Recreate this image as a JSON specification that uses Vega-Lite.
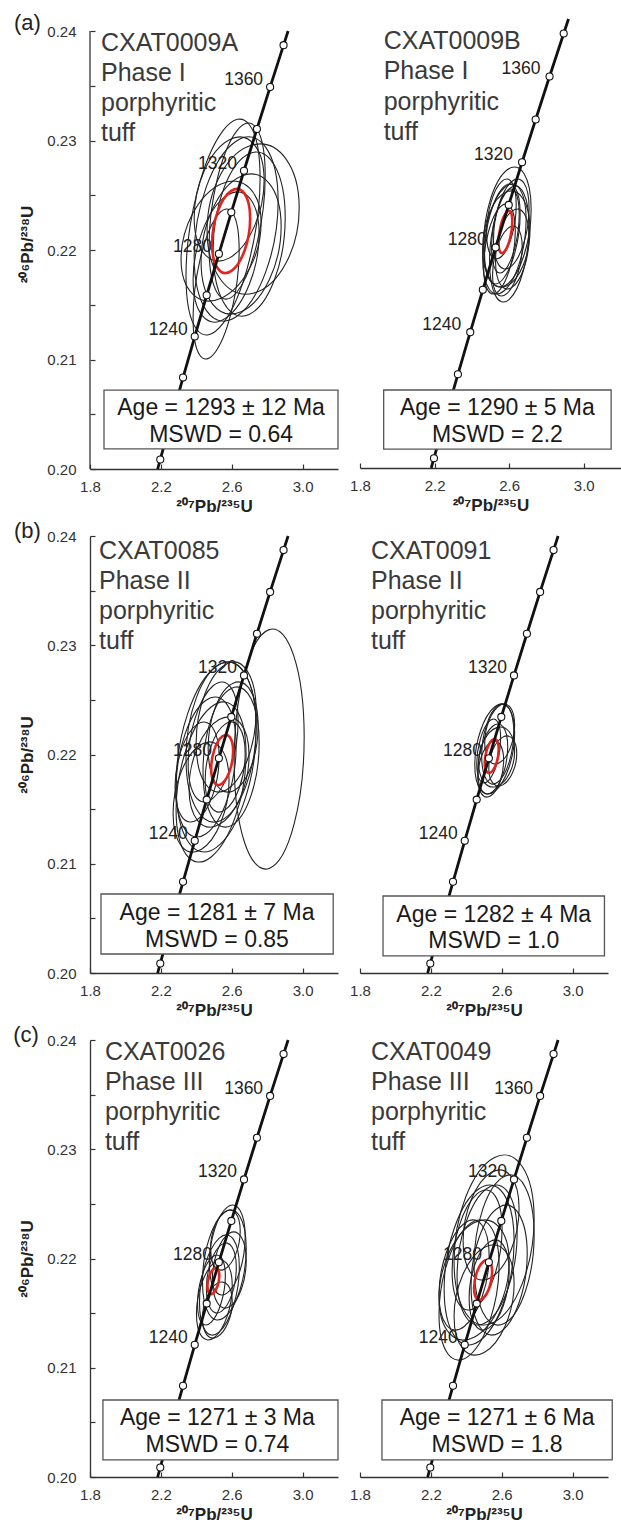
{
  "$schema": "https://vega.github.io/schema/vega-lite/v6.json",
  "padding": {"left": 13, "top": 11, "right": 0, "bottom": 0},
  "datasets": {
    "conc": [
      {"t": 1175.3, "x": 2.1820, "y": 0.2000, "m": false, "lab": ""},
      {"t": 1180, "x": 2.19671, "y": 0.20087, "m": true, "lab": ""},
      {"t": 1200, "x": 2.26030, "y": 0.20460, "m": true, "lab": ""},
      {"t": 1220, "x": 2.32516, "y": 0.20835, "m": true, "lab": ""},
      {"t": 1240, "x": 2.39131, "y": 0.21210, "m": true, "lab": "1240"},
      {"t": 1260, "x": 2.45876, "y": 0.21587, "m": true, "lab": ""},
      {"t": 1280, "x": 2.52757, "y": 0.21965, "m": true, "lab": "1280"},
      {"t": 1300, "x": 2.59773, "y": 0.22344, "m": true, "lab": ""},
      {"t": 1320, "x": 2.66930, "y": 0.22724, "m": true, "lab": "1320"},
      {"t": 1340, "x": 2.74229, "y": 0.23105, "m": true, "lab": ""},
      {"t": 1360, "x": 2.81674, "y": 0.23488, "m": true, "lab": "1360"},
      {"t": 1380, "x": 2.89266, "y": 0.23871, "m": true, "lab": ""},
      {"t": 1386.7, "x": 2.9183, "y": 0.2400, "m": false, "lab": ""}
    ],
    "ell": [
      {"p": "a1", "id": "a1-1", "r": 0, "xs": [2.760, 2.551, 2.342, 2.551], "ys": [0.22654, 0.23090, 0.21766, 0.21330], "k": [0, 1, 2, 3]},
      {"p": "a1", "id": "a1-2", "r": 0, "xs": [2.981, 2.721, 2.461, 2.721], "ys": [0.22386, 0.22961, 0.22180, 0.21605], "k": [0, 1, 2, 3]},
      {"p": "a1", "id": "a1-3", "r": 0, "xs": [2.642, 2.512, 2.382, 2.512], "ys": [0.21998, 0.22301, 0.21381, 0.21078], "k": [0, 1, 2, 3]},
      {"p": "a1", "id": "a1-4", "r": 0, "xs": [2.862, 2.625, 2.388, 2.625], "ys": [0.22444, 0.22994, 0.21940, 0.21390], "k": [0, 1, 2, 3]},
      {"p": "a1", "id": "a1-5", "r": 0, "xs": [2.879, 2.653, 2.427, 2.653], "ys": [0.22215, 0.22674, 0.21895, 0.21436], "k": [0, 1, 2, 3]},
      {"p": "a1", "id": "a1-6", "r": 0, "xs": [2.783, 2.585, 2.388, 2.585], "ys": [0.22636, 0.23005, 0.22296, 0.21926], "k": [0, 1, 2, 3]},
      {"p": "a1", "id": "a1-7", "r": 0, "xs": [2.902, 2.698, 2.495, 2.698], "ys": [0.22296, 0.22880, 0.21996, 0.21412], "k": [0, 1, 2, 3]},
      {"p": "a1", "id": "a1-8", "r": 0, "xs": [2.755, 2.568, 2.382, 2.568], "ys": [0.22144, 0.22492, 0.21728, 0.21380], "k": [0, 1, 2, 3]},
      {"p": "a1", "id": "a1-9", "r": 0, "xs": [2.789, 2.631, 2.472, 2.631], "ys": [0.22678, 0.23093, 0.22035, 0.21619], "k": [0, 1, 2, 3]},
      {"p": "a1", "id": "a1-10", "r": 0, "xs": [2.766, 2.540, 2.314, 2.540], "ys": [0.22246, 0.22604, 0.21918, 0.21560], "k": [0, 1, 2, 3]},
      {"p": "a1", "id": "a1-m", "r": 1, "xs": [2.704, 2.597, 2.489, 2.597], "ys": [0.22289, 0.22540, 0.22058, 0.21807], "k": [0, 1, 2, 3]},

      {"p": "a2", "id": "a2-1", "r": 0, "xs": [2.718, 2.590, 2.463, 2.590], "ys": [0.22307, 0.22657, 0.21987, 0.21637], "k": [0, 1, 2, 3]},
      {"p": "a2", "id": "a2-2", "r": 0, "xs": [2.691, 2.575, 2.458, 2.575], "ys": [0.22212, 0.22499, 0.21869, 0.21581], "k": [0, 1, 2, 3]},
      {"p": "a2", "id": "a2-3", "r": 0, "xs": [2.707, 2.601, 2.495, 2.601], "ys": [0.22151, 0.22488, 0.21841, 0.21503], "k": [0, 1, 2, 3]},
      {"p": "a2", "id": "a2-4", "r": 0, "xs": [2.659, 2.564, 2.468, 2.564], "ys": [0.22263, 0.22493, 0.21907, 0.21677], "k": [0, 1, 2, 3]},
      {"p": "a2", "id": "a2-5", "r": 0, "xs": [2.707, 2.612, 2.516, 2.612], "ys": [0.22314, 0.22550, 0.22034, 0.21798], "k": [0, 1, 2, 3]},
      {"p": "a2", "id": "a2-6", "r": 0, "xs": [2.633, 2.548, 2.463, 2.548], "ys": [0.22111, 0.22319, 0.21791, 0.21583], "k": [0, 1, 2, 3]},
      {"p": "a2", "id": "a2-7", "r": 0, "xs": [2.654, 2.580, 2.506, 2.580], "ys": [0.22261, 0.22454, 0.21962, 0.21768], "k": [0, 1, 2, 3]},
      {"p": "a2", "id": "a2-8", "r": 0, "xs": [2.707, 2.617, 2.527, 2.617], "ys": [0.22058, 0.22291, 0.21844, 0.21611], "k": [0, 1, 2, 3]},
      {"p": "a2", "id": "a2-9", "r": 0, "xs": [2.638, 2.559, 2.479, 2.559], "ys": [0.22343, 0.22552, 0.22094, 0.21884], "k": [0, 1, 2, 3]},
      {"p": "a2", "id": "a2-10", "r": 0, "xs": [2.670, 2.590, 2.511, 2.590], "ys": [0.21969, 0.22130, 0.21719, 0.21558], "k": [0, 1, 2, 3]},
      {"p": "a2", "id": "a2-11", "r": 0, "xs": [2.712, 2.585, 2.458, 2.585], "ys": [0.22126, 0.22459, 0.21955, 0.21621], "k": [0, 1, 2, 3]},
      {"p": "a2", "id": "a2-m", "r": 1, "xs": [2.617, 2.580, 2.543, 2.580], "ys": [0.22196, 0.22265, 0.22009, 0.21940], "k": [0, 1, 2, 3]},

      {"p": "b1", "id": "b1-1", "r": 0, "xs": [2.738, 2.512, 2.286, 2.512], "ys": [0.22238, 0.22806, 0.21716, 0.21148], "k": [0, 1, 2, 3]},
      {"p": "b1", "id": "b1-2", "r": 0, "xs": [2.738, 2.540, 2.342, 2.540], "ys": [0.22261, 0.22832, 0.21968, 0.21397], "k": [0, 1, 2, 3]},
      {"p": "b1", "id": "b1-3", "r": 0, "xs": [2.681, 2.484, 2.286, 2.484], "ys": [0.22005, 0.22435, 0.21492, 0.21062], "k": [0, 1, 2, 3]},
      {"p": "b1", "id": "b1-4", "r": 0, "xs": [2.738, 2.568, 2.399, 2.568], "ys": [0.22400, 0.22827, 0.22103, 0.21676], "k": [0, 1, 2, 3]},
      {"p": "b1", "id": "b1-5", "r": 0, "xs": [2.625, 2.455, 2.286, 2.455], "ys": [0.22078, 0.22497, 0.21693, 0.21274], "k": [0, 1, 2, 3]},
      {"p": "b1", "id": "b1-6", "r": 0, "xs": [2.755, 2.597, 2.438, 2.597], "ys": [0.22105, 0.22605, 0.21849, 0.21349], "k": [0, 1, 2, 3]},
      {"p": "b1", "id": "b1-7", "r": 0, "xs": [2.698, 2.529, 2.359, 2.529], "ys": [0.21991, 0.22320, 0.21689, 0.21359], "k": [0, 1, 2, 3]},
      {"p": "b1", "id": "b1-8", "r": 0, "xs": [2.636, 2.495, 2.354, 2.495], "ys": [0.22307, 0.22629, 0.21922, 0.21600], "k": [0, 1, 2, 3]},
      {"p": "b1", "id": "b1-9", "r": 0, "xs": [2.585, 2.427, 2.269, 2.427], "ys": [0.21762, 0.22091, 0.21460, 0.21130], "k": [0, 1, 2, 3]},
      {"p": "b1", "id": "b1-10", "r": 0, "xs": [2.676, 2.563, 2.450, 2.563], "ys": [0.22009, 0.22278, 0.21762, 0.21493], "k": [0, 1, 2, 3]},
      {"p": "b1", "id": "b1-11", "r": 0, "xs": [2.749, 2.608, 2.467, 2.608], "ys": [0.22261, 0.22653, 0.22059, 0.21667], "k": [0, 1, 2, 3]},
      {"p": "b1", "id": "b1-12", "r": 0, "xs": [2.529, 2.405, 2.280, 2.405], "ys": [0.21977, 0.22276, 0.21702, 0.21403], "k": [0, 1, 2, 3]},
      {"p": "b1", "id": "b1-13", "r": 0, "xs": [3.009, 2.811, 2.614, 2.811], "ys": [0.22160, 0.23143, 0.21940, 0.20957], "k": [0, 1, 2, 3]},
      {"p": "b1", "id": "b1-m", "r": 1, "xs": [2.608, 2.546, 2.484, 2.546], "ys": [0.22030, 0.22164, 0.21870, 0.21735], "k": [0, 1, 2, 3]},

      {"p": "b2", "id": "b2-1", "r": 0, "xs": [2.673, 2.561, 2.448, 2.561], "ys": [0.22194, 0.22437, 0.21906, 0.21664], "k": [0, 1, 2, 3]},
      {"p": "b2", "id": "b2-2", "r": 0, "xs": [2.668, 2.577, 2.487, 2.577], "ys": [0.22206, 0.22446, 0.21986, 0.21746], "k": [0, 1, 2, 3]},
      {"p": "b2", "id": "b2-3", "r": 0, "xs": [2.634, 2.549, 2.465, 2.549], "ys": [0.22071, 0.22259, 0.21847, 0.21659], "k": [0, 1, 2, 3]},
      {"p": "b2", "id": "b2-4", "r": 0, "xs": [2.673, 2.589, 2.504, 2.589], "ys": [0.22270, 0.22449, 0.22105, 0.21926], "k": [0, 1, 2, 3]},
      {"p": "b2", "id": "b2-5", "r": 0, "xs": [2.611, 2.538, 2.465, 2.538], "ys": [0.21944, 0.22112, 0.21790, 0.21623], "k": [0, 1, 2, 3]},
      {"p": "b2", "id": "b2-6", "r": 0, "xs": [2.673, 2.572, 2.470, 2.572], "ys": [0.22032, 0.22246, 0.21922, 0.21708], "k": [0, 1, 2, 3]},
      {"p": "b2", "id": "b2-7", "r": 0, "xs": [2.594, 2.527, 2.459, 2.527], "ys": [0.22149, 0.22300, 0.21915, 0.21764], "k": [0, 1, 2, 3]},
      {"p": "b2", "id": "b2-8", "r": 0, "xs": [2.685, 2.606, 2.527, 2.606], "ys": [0.22009, 0.22159, 0.21872, 0.21722], "k": [0, 1, 2, 3]},
      {"p": "b2", "id": "b2-m", "r": 1, "xs": [2.583, 2.544, 2.504, 2.544], "ys": [0.22048, 0.22129, 0.21924, 0.21843], "k": [0, 1, 2, 3]},

      {"p": "c1", "id": "c1-1", "r": 0, "xs": [2.682, 2.558, 2.435, 2.558], "ys": [0.22091, 0.22421, 0.21789, 0.21460], "k": [0, 1, 2, 3]},
      {"p": "c1", "id": "c1-2", "r": 0, "xs": [2.643, 2.530, 2.418, 2.530], "ys": [0.21918, 0.22187, 0.21597, 0.21328], "k": [0, 1, 2, 3]},
      {"p": "c1", "id": "c1-3", "r": 0, "xs": [2.676, 2.575, 2.474, 2.575], "ys": [0.22201, 0.22470, 0.21954, 0.21685], "k": [0, 1, 2, 3]},
      {"p": "c1", "id": "c1-4", "r": 0, "xs": [2.603, 2.502, 2.401, 2.502], "ys": [0.21748, 0.21963, 0.21492, 0.21277], "k": [0, 1, 2, 3]},
      {"p": "c1", "id": "c1-5", "r": 0, "xs": [2.626, 2.542, 2.457, 2.542], "ys": [0.21918, 0.22127, 0.21725, 0.21516], "k": [0, 1, 2, 3]},
      {"p": "c1", "id": "c1-6", "r": 0, "xs": [2.682, 2.587, 2.491, 2.587], "ys": [0.21982, 0.22232, 0.21808, 0.21558], "k": [0, 1, 2, 3]},
      {"p": "c1", "id": "c1-7", "r": 0, "xs": [2.564, 2.485, 2.407, 2.485], "ys": [0.21840, 0.22005, 0.21583, 0.21418], "k": [0, 1, 2, 3]},
      {"p": "c1", "id": "c1-8", "r": 0, "xs": [2.648, 2.564, 2.480, 2.564], "ys": [0.22252, 0.22431, 0.22087, 0.21907], "k": [0, 1, 2, 3]},
      {"p": "c1", "id": "c1-9", "r": 0, "xs": [2.603, 2.519, 2.435, 2.519], "ys": [0.21605, 0.21773, 0.21452, 0.21284], "k": [0, 1, 2, 3]},
      {"p": "c1", "id": "c1-m", "r": 1, "xs": [2.530, 2.497, 2.463, 2.497], "ys": [0.21842, 0.21903, 0.21746, 0.21685], "k": [0, 1, 2, 3]},

      {"p": "c2", "id": "c2-1", "r": 0, "xs": [2.783, 2.557, 2.331, 2.557], "ys": [0.22364, 0.22923, 0.21975, 0.21416], "k": [0, 1, 2, 3]},
      {"p": "c2", "id": "c2-2", "r": 0, "xs": [2.670, 2.472, 2.275, 2.472], "ys": [0.22160, 0.22639, 0.21721, 0.21242], "k": [0, 1, 2, 3]},
      {"p": "c2", "id": "c2-3", "r": 0, "xs": [2.585, 2.416, 2.246, 2.416], "ys": [0.21936, 0.22312, 0.21487, 0.21111], "k": [0, 1, 2, 3]},
      {"p": "c2", "id": "c2-4", "r": 0, "xs": [2.687, 2.518, 2.348, 2.518], "ys": [0.22224, 0.22643, 0.21840, 0.21421], "k": [0, 1, 2, 3]},
      {"p": "c2", "id": "c2-5", "r": 0, "xs": [2.642, 2.444, 2.246, 2.444], "ys": [0.21968, 0.22327, 0.21638, 0.21280], "k": [0, 1, 2, 3]},
      {"p": "c2", "id": "c2-6", "r": 0, "xs": [2.744, 2.585, 2.427, 2.585], "ys": [0.22043, 0.22470, 0.21746, 0.21319], "k": [0, 1, 2, 3]},
      {"p": "c2", "id": "c2-7", "r": 0, "xs": [2.670, 2.501, 2.331, 2.501], "ys": [0.21771, 0.22101, 0.21469, 0.21140], "k": [0, 1, 2, 3]},
      {"p": "c2", "id": "c2-8", "r": 0, "xs": [2.602, 2.461, 2.320, 2.461], "ys": [0.22270, 0.22592, 0.21886, 0.21563], "k": [0, 1, 2, 3]},
      {"p": "c2", "id": "c2-9", "r": 0, "xs": [2.698, 2.540, 2.382, 2.540], "ys": [0.22458, 0.22787, 0.22156, 0.21826], "k": [0, 1, 2, 3]},
      {"p": "c2", "id": "c2-10", "r": 0, "xs": [2.529, 2.388, 2.246, 2.388], "ys": [0.22025, 0.22320, 0.21673, 0.21378], "k": [0, 1, 2, 3]},
      {"p": "c2", "id": "c2-11", "r": 0, "xs": [2.642, 2.529, 2.416, 2.529], "ys": [0.21881, 0.22150, 0.21634, 0.21365], "k": [0, 1, 2, 3]},
      {"p": "c2", "id": "c2-12", "r": 0, "xs": [2.783, 2.614, 2.444, 2.614], "ys": [0.22215, 0.22751, 0.21940, 0.21405], "k": [0, 1, 2, 3]},
      {"p": "c2", "id": "c2-m", "r": 1, "xs": [2.546, 2.495, 2.444, 2.495], "ys": [0.21876, 0.21971, 0.21730, 0.21636], "k": [0, 1, 2, 3]}
    ],
    "ann": [
      {"p": "a1", "kind": "title", "x": 1.862, "y": 0.23817, "text": "CXAT0009A\nPhase I\nporphyritic\ntuff"},
      {"p": "a1", "kind": "box", "x": 1.879, "x2": 3.2, "y": 0.20721, "y2": 0.20183},
      {"p": "a1", "kind": "line", "x": 2.540, "y": 0.20493, "text": "Age = 1293 \u00b1 12 Ma"},
      {"p": "a1", "kind": "line", "x": 2.540, "y": 0.20247, "text": "MSWD = 0.64"},
      {"p": "a1", "kind": "letter", "x": 1.371, "y": 0.2401, "text": "(a)"},
      {"p": "a2", "kind": "title", "x": 1.927, "y": 0.23733, "text": "CXAT0009B\nPhase I\nporphyritic\ntuff"},
      {"p": "a2", "kind": "box", "x": 1.927, "x2": 3.147, "y": 0.20695, "y2": 0.20169},
      {"p": "a2", "kind": "line", "x": 2.537, "y": 0.20472, "text": "Age = 1290 \u00b1 5 Ma"},
      {"p": "a2", "kind": "line", "x": 2.537, "y": 0.20232, "text": "MSWD = 2.2"},
      {"p": "b1", "kind": "title", "x": 1.851, "y": 0.23789, "text": "CXAT0085\nPhase II\nporphyritic\ntuff"},
      {"p": "b1", "kind": "box", "x": 1.862, "x2": 3.173, "y": 0.20723, "y2": 0.20174},
      {"p": "b1", "kind": "line", "x": 2.517, "y": 0.20485, "text": "Age = 1281 \u00b1 7 Ma"},
      {"p": "b1", "kind": "line", "x": 2.517, "y": 0.20238, "text": "MSWD = 0.85"},
      {"p": "b1", "kind": "letter", "x": 1.371, "y": 0.23982, "text": "(b)"},
      {"p": "b2", "kind": "title", "x": 1.862, "y": 0.23789, "text": "CXAT0091\nPhase II\nporphyritic\ntuff"},
      {"p": "b2", "kind": "box", "x": 1.930, "x2": 3.180, "y": 0.20705, "y2": 0.20156},
      {"p": "b2", "kind": "line", "x": 2.555, "y": 0.20470, "text": "Age = 1282 \u00b1 4 Ma"},
      {"p": "b2", "kind": "line", "x": 2.555, "y": 0.20225, "text": "MSWD = 1.0"},
      {"p": "c1", "kind": "title", "x": 1.884, "y": 0.23817, "text": "CXAT0026\nPhase III\nporphyritic\ntuff"},
      {"p": "c1", "kind": "box", "x": 1.873, "x2": 3.2, "y": 0.20705, "y2": 0.20156},
      {"p": "c1", "kind": "line", "x": 2.519, "y": 0.20476, "text": "Age = 1271 \u00b1 3 Ma"},
      {"p": "c1", "kind": "line", "x": 2.519, "y": 0.20229, "text": "MSWD = 0.74"},
      {"p": "c1", "kind": "letter", "x": 1.367, "y": 0.23982, "text": "(c)"},
      {"p": "c2", "kind": "title", "x": 1.862, "y": 0.23817, "text": "CXAT0049\nPhase III\nporphyritic\ntuff"},
      {"p": "c2", "kind": "box", "x": 1.924, "x2": 3.224, "y": 0.20705, "y2": 0.20156},
      {"p": "c2", "kind": "line", "x": 2.574, "y": 0.20476, "text": "Age = 1271 \u00b1 6 Ma"},
      {"p": "c2", "kind": "line", "x": 2.574, "y": 0.20229, "text": "MSWD = 1.8"}
    ]
  },
  "columns": 2,
  "bounds": "flush",
  "spacing": {"row": 67, "column": 22},
  "concat": [
    {
      "width": 248, "height": 450,
      "layer": [
        {"data": {"name": "conc"}, "transform": [{"filter": "datum.lab != ''"}],
         "mark": {"type": "text", "align": "right", "baseline": "alphabetic", "dx": -7, "dy": -2, "fontSize": 17.5, "color": "#222"},
         "encoding": {
           "x": {"field": "x", "type": "quantitative", "scale": {"domain": [1.8, 3.2], "nice": false, "zero": false},
                 "axis": {"values": [1.8, 2.0, 2.2, 2.4, 2.6, 2.8, 3.0, 3.2], "labelExpr": "round(datum.value*10) % 4 == 2 ? format(datum.value, '.1f') : ''", "title": "\u00b2\u2070\u2077Pb/\u00b2\u00b3\u2075U"}},
           "y": {"field": "y", "type": "quantitative", "scale": {"domain": [0.2, 0.2411], "nice": false, "zero": false},
                 "axis": {"domain": false, "values": [0.2, 0.205, 0.21, 0.215, 0.22, 0.225, 0.23, 0.235, 0.24], "labelExpr": "round(datum.value*1000) % 10 == 0 ? format(datum.value, '.2f') : ''", "title": "\u00b2\u2070\u2076Pb/\u00b2\u00b3\u2078U"}},
           "text": {"field": "lab"}}},
        {"data": {"values": [{}]}, "mark": {"type": "rule", "color": "#333", "strokeWidth": 1.3},
         "encoding": {"x": {"datum": 1.8, "type": "quantitative"}, "y": {"datum": 0.2, "type": "quantitative"}, "y2": {"datum": 0.24}}},
        {"data": {"name": "ell"}, "transform": [{"filter": "datum.p == 'a1' && datum.r == 0"}, {"flatten": ["xs", "ys", "k"]}],
         "mark": {"type": "line", "interpolate": "cardinal-closed", "tension": -0.657, "color": "#222", "strokeWidth": 1.1},
         "encoding": {"x": {"field": "xs", "type": "quantitative"}, "y": {"field": "ys", "type": "quantitative"}, "detail": {"field": "id"}, "order": {"field": "k", "type": "quantitative"}}},
        {"data": {"name": "ell"}, "transform": [{"filter": "datum.p == 'a1' && datum.r == 1"}, {"flatten": ["xs", "ys", "k"]}],
         "mark": {"type": "line", "interpolate": "cardinal-closed", "tension": -0.657, "color": "#e3231f", "strokeWidth": 2.6},
         "encoding": {"x": {"field": "xs", "type": "quantitative"}, "y": {"field": "ys", "type": "quantitative"}, "detail": {"field": "id"}, "order": {"field": "k", "type": "quantitative"}}},
        {"data": {"name": "conc"}, "mark": {"type": "line", "color": "#111", "strokeWidth": 2.8},
         "encoding": {"x": {"field": "x", "type": "quantitative"}, "y": {"field": "y", "type": "quantitative"}, "order": {"field": "t", "type": "quantitative"}}},
        {"data": {"name": "conc"}, "transform": [{"filter": "datum.m"}],
         "mark": {"type": "point", "shape": "circle", "filled": true, "fill": "white", "stroke": "#111", "strokeWidth": 1.1, "size": 50, "opacity": 1},
         "encoding": {"x": {"field": "x", "type": "quantitative"}, "y": {"field": "y", "type": "quantitative"}}},
        {"data": {"name": "ann"}, "transform": [{"filter": "datum.p == 'a1' && datum.kind == 'box'"}],
         "mark": {"type": "rect", "fill": "white", "stroke": "#555", "strokeWidth": 1.3},
         "encoding": {"x": {"field": "x", "type": "quantitative"}, "x2": {"field": "x2"}, "y": {"field": "y", "type": "quantitative"}, "y2": {"field": "y2"}}},
        {"data": {"name": "ann"}, "transform": [{"filter": "datum.p == 'a1' && datum.kind == 'line'"}],
         "mark": {"type": "text", "align": "center", "baseline": "alphabetic", "fontSize": 23, "color": "#1a1a1a"},
         "encoding": {"x": {"field": "x", "type": "quantitative"}, "y": {"field": "y", "type": "quantitative"}, "text": {"field": "text"}}},
        {"data": {"name": "ann"}, "transform": [{"filter": "datum.p == 'a1' && datum.kind == 'title'"}],
         "mark": {"type": "text", "align": "left", "baseline": "alphabetic", "fontSize": 25, "lineBreak": "\n", "lineHeight": 30, "color": "#3a3a3a"},
         "encoding": {"x": {"field": "x", "type": "quantitative"}, "y": {"field": "y", "type": "quantitative"}, "text": {"field": "text"}}},
        {"data": {"name": "ann"}, "transform": [{"filter": "datum.p == 'a1' && datum.kind == 'letter'"}],
         "mark": {"type": "text", "align": "left", "baseline": "alphabetic", "fontSize": 22, "color": "#222"},
         "encoding": {"x": {"field": "x", "type": "quantitative"}, "y": {"field": "y", "type": "quantitative"}, "text": {"field": "text"}}}
      ]
    },
    {
      "width": 261, "height": 449,
      "layer": [
        {"data": {"name": "conc"}, "transform": [{"filter": "datum.lab != ''"}],
         "mark": {"type": "text", "align": "right", "baseline": "alphabetic", "dx": -9, "dy": -2, "fontSize": 17.5, "color": "#222"},
         "encoding": {
           "x": {"field": "x", "type": "quantitative", "scale": {"domain": [1.8, 3.2], "nice": false, "zero": false},
                 "axis": {"values": [1.8, 2.0, 2.2, 2.4, 2.6, 2.8, 3.0, 3.2], "labelExpr": "round(datum.value*10) % 4 == 2 ? format(datum.value, '.1f') : ''", "title": "\u00b2\u2070\u2077Pb/\u00b2\u00b3\u2075U"}},
           "y": {"field": "y", "type": "quantitative", "scale": {"domain": [0.2, 0.24], "nice": false, "zero": false}, "axis": null},
           "text": {"field": "lab"}}},
        {"data": {"name": "ell"}, "transform": [{"filter": "datum.p == 'a2' && datum.r == 0"}, {"flatten": ["xs", "ys", "k"]}],
         "mark": {"type": "line", "interpolate": "cardinal-closed", "tension": -0.657, "color": "#222", "strokeWidth": 1.1},
         "encoding": {"x": {"field": "xs", "type": "quantitative"}, "y": {"field": "ys", "type": "quantitative"}, "detail": {"field": "id"}, "order": {"field": "k", "type": "quantitative"}}},
        {"data": {"name": "ell"}, "transform": [{"filter": "datum.p == 'a2' && datum.r == 1"}, {"flatten": ["xs", "ys", "k"]}],
         "mark": {"type": "line", "interpolate": "cardinal-closed", "tension": -0.657, "color": "#e3231f", "strokeWidth": 2.6},
         "encoding": {"x": {"field": "xs", "type": "quantitative"}, "y": {"field": "ys", "type": "quantitative"}, "detail": {"field": "id"}, "order": {"field": "k", "type": "quantitative"}}},
        {"data": {"name": "conc"}, "mark": {"type": "line", "color": "#111", "strokeWidth": 2.8},
         "encoding": {"x": {"field": "x", "type": "quantitative"}, "y": {"field": "y", "type": "quantitative"}, "order": {"field": "t", "type": "quantitative"}}},
        {"data": {"name": "conc"}, "transform": [{"filter": "datum.m"}],
         "mark": {"type": "point", "shape": "circle", "filled": true, "fill": "white", "stroke": "#111", "strokeWidth": 1.1, "size": 50, "opacity": 1},
         "encoding": {"x": {"field": "x", "type": "quantitative"}, "y": {"field": "y", "type": "quantitative"}}},
        {"data": {"name": "ann"}, "transform": [{"filter": "datum.p == 'a2' && datum.kind == 'box'"}],
         "mark": {"type": "rect", "fill": "white", "stroke": "#555", "strokeWidth": 1.3},
         "encoding": {"x": {"field": "x", "type": "quantitative"}, "x2": {"field": "x2"}, "y": {"field": "y", "type": "quantitative"}, "y2": {"field": "y2"}}},
        {"data": {"name": "ann"}, "transform": [{"filter": "datum.p == 'a2' && datum.kind == 'line'"}],
         "mark": {"type": "text", "align": "center", "baseline": "alphabetic", "fontSize": 23, "color": "#1a1a1a"},
         "encoding": {"x": {"field": "x", "type": "quantitative"}, "y": {"field": "y", "type": "quantitative"}, "text": {"field": "text"}}},
        {"data": {"name": "ann"}, "transform": [{"filter": "datum.p == 'a2' && datum.kind == 'title'"}],
         "mark": {"type": "text", "align": "left", "baseline": "alphabetic", "fontSize": 25, "lineBreak": "\n", "lineHeight": 30.5, "color": "#3a3a3a"},
         "encoding": {"x": {"field": "x", "type": "quantitative"}, "y": {"field": "y", "type": "quantitative"}, "text": {"field": "text"}}}
      ]
    },
    {
      "width": 248, "height": 437,
      "layer": [
        {"data": {"name": "conc"}, "transform": [{"filter": "datum.lab != '' && datum.lab != '1360'"}],
         "mark": {"type": "text", "align": "right", "baseline": "alphabetic", "dx": -7, "dy": -2, "fontSize": 17.5, "color": "#222"},
         "encoding": {
           "x": {"field": "x", "type": "quantitative", "scale": {"domain": [1.8, 3.2], "nice": false, "zero": false},
                 "axis": {"values": [1.8, 2.0, 2.2, 2.4, 2.6, 2.8, 3.0, 3.2], "labelExpr": "round(datum.value*10) % 4 == 2 ? format(datum.value, '.1f') : ''", "title": "\u00b2\u2070\u2077Pb/\u00b2\u00b3\u2075U"}},
           "y": {"field": "y", "type": "quantitative", "scale": {"domain": [0.2, 0.24], "nice": false, "zero": false},
                 "axis": {"values": [0.2, 0.205, 0.21, 0.215, 0.22, 0.225, 0.23, 0.235, 0.24], "labelExpr": "round(datum.value*1000) % 10 == 0 ? format(datum.value, '.2f') : ''", "title": "\u00b2\u2070\u2076Pb/\u00b2\u00b3\u2078U"}},
           "text": {"field": "lab"}}},
        {"data": {"name": "ell"}, "transform": [{"filter": "datum.p == 'b1' && datum.r == 0"}, {"flatten": ["xs", "ys", "k"]}],
         "mark": {"type": "line", "interpolate": "cardinal-closed", "tension": -0.657, "color": "#222", "strokeWidth": 1.1},
         "encoding": {"x": {"field": "xs", "type": "quantitative"}, "y": {"field": "ys", "type": "quantitative"}, "detail": {"field": "id"}, "order": {"field": "k", "type": "quantitative"}}},
        {"data": {"name": "ell"}, "transform": [{"filter": "datum.p == 'b1' && datum.r == 1"}, {"flatten": ["xs", "ys", "k"]}],
         "mark": {"type": "line", "interpolate": "cardinal-closed", "tension": -0.657, "color": "#e3231f", "strokeWidth": 2.6},
         "encoding": {"x": {"field": "xs", "type": "quantitative"}, "y": {"field": "ys", "type": "quantitative"}, "detail": {"field": "id"}, "order": {"field": "k", "type": "quantitative"}}},
        {"data": {"name": "conc"}, "mark": {"type": "line", "color": "#111", "strokeWidth": 2.8},
         "encoding": {"x": {"field": "x", "type": "quantitative"}, "y": {"field": "y", "type": "quantitative"}, "order": {"field": "t", "type": "quantitative"}}},
        {"data": {"name": "conc"}, "transform": [{"filter": "datum.m"}],
         "mark": {"type": "point", "shape": "circle", "filled": true, "fill": "white", "stroke": "#111", "strokeWidth": 1.1, "size": 50, "opacity": 1},
         "encoding": {"x": {"field": "x", "type": "quantitative"}, "y": {"field": "y", "type": "quantitative"}}},
        {"data": {"name": "ann"}, "transform": [{"filter": "datum.p == 'b1' && datum.kind == 'box'"}],
         "mark": {"type": "rect", "fill": "white", "stroke": "#555", "strokeWidth": 1.3},
         "encoding": {"x": {"field": "x", "type": "quantitative"}, "x2": {"field": "x2"}, "y": {"field": "y", "type": "quantitative"}, "y2": {"field": "y2"}}},
        {"data": {"name": "ann"}, "transform": [{"filter": "datum.p == 'b1' && datum.kind == 'line'"}],
         "mark": {"type": "text", "align": "center", "baseline": "alphabetic", "fontSize": 23, "color": "#1a1a1a"},
         "encoding": {"x": {"field": "x", "type": "quantitative"}, "y": {"field": "y", "type": "quantitative"}, "text": {"field": "text"}}},
        {"data": {"name": "ann"}, "transform": [{"filter": "datum.p == 'b1' && datum.kind == 'title'"}],
         "mark": {"type": "text", "align": "left", "baseline": "alphabetic", "fontSize": 25, "lineBreak": "\n", "lineHeight": 30, "color": "#3a3a3a"},
         "encoding": {"x": {"field": "x", "type": "quantitative"}, "y": {"field": "y", "type": "quantitative"}, "text": {"field": "text"}}},
        {"data": {"name": "ann"}, "transform": [{"filter": "datum.p == 'b1' && datum.kind == 'letter'"}],
         "mark": {"type": "text", "align": "left", "baseline": "alphabetic", "fontSize": 22, "color": "#222"},
         "encoding": {"x": {"field": "x", "type": "quantitative"}, "y": {"field": "y", "type": "quantitative"}, "text": {"field": "text"}}}
      ]
    },
    {
      "width": 248, "height": 437,
      "layer": [
        {"data": {"name": "conc"}, "transform": [{"filter": "datum.lab != '' && datum.lab != '1360'"}],
         "mark": {"type": "text", "align": "right", "baseline": "alphabetic", "dx": -7, "dy": -2, "fontSize": 17.5, "color": "#222"},
         "encoding": {
           "x": {"field": "x", "type": "quantitative", "scale": {"domain": [1.8, 3.2], "nice": false, "zero": false},
                 "axis": {"values": [1.8, 2.0, 2.2, 2.4, 2.6, 2.8, 3.0, 3.2], "labelExpr": "round(datum.value*10) % 4 == 2 ? format(datum.value, '.1f') : ''", "title": "\u00b2\u2070\u2077Pb/\u00b2\u00b3\u2075U"}},
           "y": {"field": "y", "type": "quantitative", "scale": {"domain": [0.2, 0.24], "nice": false, "zero": false}, "axis": null},
           "text": {"field": "lab"}}},
        {"data": {"name": "ell"}, "transform": [{"filter": "datum.p == 'b2' && datum.r == 0"}, {"flatten": ["xs", "ys", "k"]}],
         "mark": {"type": "line", "interpolate": "cardinal-closed", "tension": -0.657, "color": "#222", "strokeWidth": 1.1},
         "encoding": {"x": {"field": "xs", "type": "quantitative"}, "y": {"field": "ys", "type": "quantitative"}, "detail": {"field": "id"}, "order": {"field": "k", "type": "quantitative"}}},
        {"data": {"name": "ell"}, "transform": [{"filter": "datum.p == 'b2' && datum.r == 1"}, {"flatten": ["xs", "ys", "k"]}],
         "mark": {"type": "line", "interpolate": "cardinal-closed", "tension": -0.657, "color": "#e3231f", "strokeWidth": 2.6},
         "encoding": {"x": {"field": "xs", "type": "quantitative"}, "y": {"field": "ys", "type": "quantitative"}, "detail": {"field": "id"}, "order": {"field": "k", "type": "quantitative"}}},
        {"data": {"name": "conc"}, "mark": {"type": "line", "color": "#111", "strokeWidth": 2.8},
         "encoding": {"x": {"field": "x", "type": "quantitative"}, "y": {"field": "y", "type": "quantitative"}, "order": {"field": "t", "type": "quantitative"}}},
        {"data": {"name": "conc"}, "transform": [{"filter": "datum.m"}],
         "mark": {"type": "point", "shape": "circle", "filled": true, "fill": "white", "stroke": "#111", "strokeWidth": 1.1, "size": 50, "opacity": 1},
         "encoding": {"x": {"field": "x", "type": "quantitative"}, "y": {"field": "y", "type": "quantitative"}}},
        {"data": {"name": "ann"}, "transform": [{"filter": "datum.p == 'b2' && datum.kind == 'box'"}],
         "mark": {"type": "rect", "fill": "white", "stroke": "#555", "strokeWidth": 1.3},
         "encoding": {"x": {"field": "x", "type": "quantitative"}, "x2": {"field": "x2"}, "y": {"field": "y", "type": "quantitative"}, "y2": {"field": "y2"}}},
        {"data": {"name": "ann"}, "transform": [{"filter": "datum.p == 'b2' && datum.kind == 'line'"}],
         "mark": {"type": "text", "align": "center", "baseline": "alphabetic", "fontSize": 23, "color": "#1a1a1a"},
         "encoding": {"x": {"field": "x", "type": "quantitative"}, "y": {"field": "y", "type": "quantitative"}, "text": {"field": "text"}}},
        {"data": {"name": "ann"}, "transform": [{"filter": "datum.p == 'b2' && datum.kind == 'title'"}],
         "mark": {"type": "text", "align": "left", "baseline": "alphabetic", "fontSize": 25, "lineBreak": "\n", "lineHeight": 30, "color": "#3a3a3a"},
         "encoding": {"x": {"field": "x", "type": "quantitative"}, "y": {"field": "y", "type": "quantitative"}, "text": {"field": "text"}}}
      ]
    },
    {
      "width": 248, "height": 437,
      "layer": [
        {"data": {"name": "conc"}, "transform": [{"filter": "datum.lab != ''"}],
         "mark": {"type": "text", "align": "right", "baseline": "alphabetic", "dx": -7, "dy": -2, "fontSize": 17.5, "color": "#222"},
         "encoding": {
           "x": {"field": "x", "type": "quantitative", "scale": {"domain": [1.8, 3.2], "nice": false, "zero": false},
                 "axis": {"values": [1.8, 2.0, 2.2, 2.4, 2.6, 2.8, 3.0, 3.2], "labelExpr": "round(datum.value*10) % 4 == 2 ? format(datum.value, '.1f') : ''", "title": "\u00b2\u2070\u2077Pb/\u00b2\u00b3\u2075U"}},
           "y": {"field": "y", "type": "quantitative", "scale": {"domain": [0.2, 0.24], "nice": false, "zero": false},
                 "axis": {"values": [0.2, 0.205, 0.21, 0.215, 0.22, 0.225, 0.23, 0.235, 0.24], "labelExpr": "round(datum.value*1000) % 10 == 0 ? format(datum.value, '.2f') : ''", "title": "\u00b2\u2070\u2076Pb/\u00b2\u00b3\u2078U"}},
           "text": {"field": "lab"}}},
        {"data": {"name": "ell"}, "transform": [{"filter": "datum.p == 'c1' && datum.r == 0"}, {"flatten": ["xs", "ys", "k"]}],
         "mark": {"type": "line", "interpolate": "cardinal-closed", "tension": -0.657, "color": "#222", "strokeWidth": 1.1},
         "encoding": {"x": {"field": "xs", "type": "quantitative"}, "y": {"field": "ys", "type": "quantitative"}, "detail": {"field": "id"}, "order": {"field": "k", "type": "quantitative"}}},
        {"data": {"name": "ell"}, "transform": [{"filter": "datum.p == 'c1' && datum.r == 1"}, {"flatten": ["xs", "ys", "k"]}],
         "mark": {"type": "line", "interpolate": "cardinal-closed", "tension": -0.657, "color": "#e3231f", "strokeWidth": 2.6},
         "encoding": {"x": {"field": "xs", "type": "quantitative"}, "y": {"field": "ys", "type": "quantitative"}, "detail": {"field": "id"}, "order": {"field": "k", "type": "quantitative"}}},
        {"data": {"name": "conc"}, "mark": {"type": "line", "color": "#111", "strokeWidth": 2.8},
         "encoding": {"x": {"field": "x", "type": "quantitative"}, "y": {"field": "y", "type": "quantitative"}, "order": {"field": "t", "type": "quantitative"}}},
        {"data": {"name": "conc"}, "transform": [{"filter": "datum.m"}],
         "mark": {"type": "point", "shape": "circle", "filled": true, "fill": "white", "stroke": "#111", "strokeWidth": 1.1, "size": 50, "opacity": 1},
         "encoding": {"x": {"field": "x", "type": "quantitative"}, "y": {"field": "y", "type": "quantitative"}}},
        {"data": {"name": "ann"}, "transform": [{"filter": "datum.p == 'c1' && datum.kind == 'box'"}],
         "mark": {"type": "rect", "fill": "white", "stroke": "#555", "strokeWidth": 1.3},
         "encoding": {"x": {"field": "x", "type": "quantitative"}, "x2": {"field": "x2"}, "y": {"field": "y", "type": "quantitative"}, "y2": {"field": "y2"}}},
        {"data": {"name": "ann"}, "transform": [{"filter": "datum.p == 'c1' && datum.kind == 'line'"}],
         "mark": {"type": "text", "align": "center", "baseline": "alphabetic", "fontSize": 23, "color": "#1a1a1a"},
         "encoding": {"x": {"field": "x", "type": "quantitative"}, "y": {"field": "y", "type": "quantitative"}, "text": {"field": "text"}}},
        {"data": {"name": "ann"}, "transform": [{"filter": "datum.p == 'c1' && datum.kind == 'title'"}],
         "mark": {"type": "text", "align": "left", "baseline": "alphabetic", "fontSize": 25, "lineBreak": "\n", "lineHeight": 30, "color": "#3a3a3a"},
         "encoding": {"x": {"field": "x", "type": "quantitative"}, "y": {"field": "y", "type": "quantitative"}, "text": {"field": "text"}}},
        {"data": {"name": "ann"}, "transform": [{"filter": "datum.p == 'c1' && datum.kind == 'letter'"}],
         "mark": {"type": "text", "align": "left", "baseline": "alphabetic", "fontSize": 22, "color": "#222"},
         "encoding": {"x": {"field": "x", "type": "quantitative"}, "y": {"field": "y", "type": "quantitative"}, "text": {"field": "text"}}}
      ]
    },
    {
      "width": 248, "height": 437,
      "layer": [
        {"data": {"name": "conc"}, "transform": [{"filter": "datum.lab != ''"}],
         "mark": {"type": "text", "align": "right", "baseline": "alphabetic", "dx": -7, "dy": -2, "fontSize": 17.5, "color": "#222"},
         "encoding": {
           "x": {"field": "x", "type": "quantitative", "scale": {"domain": [1.8, 3.2], "nice": false, "zero": false},
                 "axis": {"values": [1.8, 2.0, 2.2, 2.4, 2.6, 2.8, 3.0, 3.2], "labelExpr": "round(datum.value*10) % 4 == 2 ? format(datum.value, '.1f') : ''", "title": "\u00b2\u2070\u2077Pb/\u00b2\u00b3\u2075U"}},
           "y": {"field": "y", "type": "quantitative", "scale": {"domain": [0.2, 0.24], "nice": false, "zero": false}, "axis": null},
           "text": {"field": "lab"}}},
        {"data": {"name": "ell"}, "transform": [{"filter": "datum.p == 'c2' && datum.r == 0"}, {"flatten": ["xs", "ys", "k"]}],
         "mark": {"type": "line", "interpolate": "cardinal-closed", "tension": -0.657, "color": "#222", "strokeWidth": 1.1},
         "encoding": {"x": {"field": "xs", "type": "quantitative"}, "y": {"field": "ys", "type": "quantitative"}, "detail": {"field": "id"}, "order": {"field": "k", "type": "quantitative"}}},
        {"data": {"name": "ell"}, "transform": [{"filter": "datum.p == 'c2' && datum.r == 1"}, {"flatten": ["xs", "ys", "k"]}],
         "mark": {"type": "line", "interpolate": "cardinal-closed", "tension": -0.657, "color": "#e3231f", "strokeWidth": 2.6},
         "encoding": {"x": {"field": "xs", "type": "quantitative"}, "y": {"field": "ys", "type": "quantitative"}, "detail": {"field": "id"}, "order": {"field": "k", "type": "quantitative"}}},
        {"data": {"name": "conc"}, "mark": {"type": "line", "color": "#111", "strokeWidth": 2.8},
         "encoding": {"x": {"field": "x", "type": "quantitative"}, "y": {"field": "y", "type": "quantitative"}, "order": {"field": "t", "type": "quantitative"}}},
        {"data": {"name": "conc"}, "transform": [{"filter": "datum.m"}],
         "mark": {"type": "point", "shape": "circle", "filled": true, "fill": "white", "stroke": "#111", "strokeWidth": 1.1, "size": 50, "opacity": 1},
         "encoding": {"x": {"field": "x", "type": "quantitative"}, "y": {"field": "y", "type": "quantitative"}}},
        {"data": {"name": "ann"}, "transform": [{"filter": "datum.p == 'c2' && datum.kind == 'box'"}],
         "mark": {"type": "rect", "fill": "white", "stroke": "#555", "strokeWidth": 1.3},
         "encoding": {"x": {"field": "x", "type": "quantitative"}, "x2": {"field": "x2"}, "y": {"field": "y", "type": "quantitative"}, "y2": {"field": "y2"}}},
        {"data": {"name": "ann"}, "transform": [{"filter": "datum.p == 'c2' && datum.kind == 'line'"}],
         "mark": {"type": "text", "align": "center", "baseline": "alphabetic", "fontSize": 23, "color": "#1a1a1a"},
         "encoding": {"x": {"field": "x", "type": "quantitative"}, "y": {"field": "y", "type": "quantitative"}, "text": {"field": "text"}}},
        {"data": {"name": "ann"}, "transform": [{"filter": "datum.p == 'c2' && datum.kind == 'title'"}],
         "mark": {"type": "text", "align": "left", "baseline": "alphabetic", "fontSize": 25, "lineBreak": "\n", "lineHeight": 30, "color": "#3a3a3a"},
         "encoding": {"x": {"field": "x", "type": "quantitative"}, "y": {"field": "y", "type": "quantitative"}, "text": {"field": "text"}}}
      ]
    }
  ],
  "config": {
    "font": "Liberation Sans",
    "view": {"stroke": null},
    "axis": {
      "grid": false, "domainColor": "#333", "domainWidth": 1.3, "tickColor": "#333", "tickWidth": 1.2, "tickSize": -5,
      "labelFontSize": 15, "labelColor": "#333", "labelFont": "Liberation Sans", "labelFlush": false, "labelOverlap": false,
      "titleFontSize": 17, "titleFontWeight": "bold", "titleColor": "#222", "titleFont": "Liberation Sans"
    },
    "axisX": {"labelPadding": 15, "titlePadding": 4},
    "axisY": {"labelPadding": 19, "titlePadding": 10}
  }
}
